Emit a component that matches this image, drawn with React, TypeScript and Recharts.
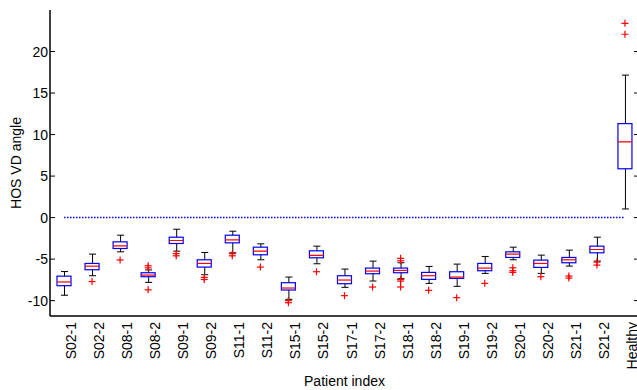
import {
  Bar,
  ComposedChart,
  ReferenceLine,
  Scatter,
  XAxis,
  YAxis,
} from 'recharts'

const categories = [
  'S02-1', 'S02-2', 'S08-1', 'S08-2', 'S09-1', 'S09-2', 'S11-1',
  'S11-2', 'S15-1', 'S15-2', 'S17-1', 'S17-2', 'S18-1', 'S18-2',
  'S19-1', 'S19-2', 'S20-1', 'S20-2', 'S21-1', 'S21-2', 'Healthy',
]

const whiskerLow = [
  -9.35, -7.0, -4.12, -7.8, -4.04, -6.88, -4.24,
  -5.08, -9.84, -5.56, -8.4, -7.64, -7.36, -7.92,
  -8.28, -6.72, -5.08, -6.72, -5.84, -5.24, 1.04,
]
const quartile1 = [
  -8.2, -6.28, -3.72, -7.12, -3.12, -5.96, -3.04,
  -4.48, -8.72, -4.84, -7.96, -6.76, -6.64, -7.44,
  -7.32, -6.4, -4.8, -6.0, -5.44, -4.24, 5.88,
]
const medians = [
  -7.75, -5.85, -3.4, -6.92, -2.76, -5.52, -2.68,
  -4.04, -8.48, -4.56, -7.52, -6.44, -6.36, -7.0,
  -7.16, -6.08, -4.4, -5.52, -5.08, -3.84, 9.12,
]
const quartile3 = [
  -7.05, -5.52, -2.92, -6.64, -2.36, -5.08, -2.12,
  -3.56, -7.84, -4.0, -7.0, -6.08, -6.08, -6.6,
  -6.52, -5.52, -4.12, -5.12, -4.8, -3.44, 11.32,
]
const whiskerHigh = [
  -6.5, -4.4, -2.12, -6.3, -1.4, -4.2, -1.64,
  -3.16, -7.16, -3.44, -6.2, -5.24, -5.44, -5.88,
  -5.6, -4.68, -3.56, -4.52, -3.92, -2.36, 17.16,
]
const outliers: number[][] = [
  [], [-7.7], [-5.1], [-5.8, -6.05, -8.7], [-4.35, -4.6], [-7.2, -7.45], [-4.35, -4.6],
  [-5.96], [-10.0, -10.25], [-6.52], [-9.4], [-8.36], [-4.9, -5.2, -7.45, -7.65, -8.36], [-8.76],
  [-9.64], [-7.92], [-6.04, -6.4, -6.6], [-7.12], [-7.04, -7.28], [-5.36, -5.72], [22.08, 23.4],
]

const yTicks = [-10, -5, 0, 5, 10, 15, 20]
const outlierKeys = ['o1', 'o2', 'o3', 'o4', 'o5']

const rows = categories.map((name, i) => {
  const row: Record<string, any> = {
    name,
    whisker: [whiskerLow[i], whiskerHigh[i]],
    box: [quartile1[i], quartile3[i]],
    median: medians[i],
  }
  outlierKeys.forEach((k, j) => {
    row[k] = outliers[i][j] ?? null
  })
  return row
})

const BLUE = '#0000ff'
const RED = '#ff0000'
const BOX_W = 14
const FONT = 14

function Whisker(props: any) {
  const { x, y, width, height } = props
  const cx = x + width / 2
  const top = Math.min(y, y + height)
  const bot = Math.max(y, y + height)
  return (
    <g stroke="#000" strokeWidth={1}>
      <line x1={cx} x2={cx} y1={top} y2={bot} />
      <line x1={x} x2={x + width} y1={top} y2={top} />
      <line x1={x} x2={x + width} y1={bot} y2={bot} />
    </g>
  )
}

function Box(props: any) {
  const { x, y, width, height } = props
  const top = Math.min(y, y + height)
  return (
    <rect x={x} y={top} width={width} height={Math.abs(height)} fill="#fff" stroke={BLUE} strokeWidth={1.2} />
  )
}

function MedianLine(props: any) {
  const { cx, cy } = props
  if (cx == null || cy == null || isNaN(cy)) return <g />
  return <line x1={cx - BOX_W / 2} x2={cx + BOX_W / 2} y1={cy} y2={cy} stroke={RED} strokeWidth={1.2} />
}

function Plus(props: any) {
  const { cx, cy } = props
  if (cx == null || cy == null || isNaN(cy)) return <g />
  return (
    <g stroke={RED} strokeWidth={1.2}>
      <line x1={cx - 3.5} x2={cx + 3.5} y1={cy} y2={cy} />
      <line x1={cx} x2={cx} y1={cy - 3.5} y2={cy + 3.5} />
    </g>
  )
}

function LeftTick(props: any) {
  const { x, y, payload } = props
  return (
    <g>
      <line x1={x + 2} x2={x + 7} y1={y} y2={y} stroke="#000" />
      <text x={x} y={y} textAnchor="end" dominantBaseline="central" fontSize={FONT} fill="#000">
        {payload.value}
      </text>
    </g>
  )
}

function RightTick(props: any) {
  const { x, y } = props
  return <line x1={x - 5} x2={x} y1={y} y2={y} stroke="#000" />
}

function CategoryTick(props: any) {
  const { x, y, payload } = props
  const tx = x + 7
  return (
    <text
      x={tx}
      y={y}
      transform={`rotate(-90 ${tx} ${y})`}
      textAnchor="end"
      dominantBaseline="central"
      fontSize={FONT}
      fill="#000"
    >
      {payload.value}
    </text>
  )
}

function YTitle(props: any) {
  const vb = props.viewBox
  const x = vb.x + 16
  const y = vb.y + vb.height / 2
  return (
    <text x={x} y={y} transform={`rotate(-90 ${x} ${y})`} textAnchor="middle" dominantBaseline="central" fontSize={FONT} fill="#000">
      HOS VD angle
    </text>
  )
}

export default function App() {
  return (
    <div
      style={{
        position: 'fixed',
        left: 0,
        top: 0,
        width: 637,
        height: 390,
        overflow: 'hidden',
        background: '#fff',
        fontFamily: '"Liberation Sans", Arial, sans-serif',
      }}
    >
      <ComposedChart width={640} height={390} data={rows} margin={{ top: 10, right: 0, bottom: 0, left: 0 }}>
        <XAxis
          dataKey="name"
          height={74}
          tick={<CategoryTick />}
          tickLine={false}
          tickSize={0}
          tickMargin={6}
          interval={0}
          axisLine={{ stroke: '#000', strokeWidth: 1.5 }}
          label={{ value: 'Patient index', position: 'insideBottom', offset: 4, fontSize: FONT, fill: '#000' }}
        />
        <XAxis
          xAxisId="top"
          dataKey="name"
          orientation="top"
          height={0}
          tick={false}
          tickLine={false}
          axisLine={{ stroke: '#000', strokeWidth: 1.5 }}
        />
        <YAxis
          width={50}
          domain={[-11.85, 25]}
          ticks={yTicks}
          allowDataOverflow
          tickLine={false}
          tickSize={0}
          tickMargin={2}
          tick={<LeftTick />}
          axisLine={{ stroke: '#000', strokeWidth: 1.5 }}
          label={<YTitle />}
        />
        <YAxis
          yAxisId="right"
          orientation="right"
          width={1}
          domain={[-11.85, 25]}
          ticks={yTicks}
          allowDataOverflow
          tickLine={false}
          tickSize={0}
          tickMargin={0}
          tick={<RightTick />}
          axisLine={{ stroke: '#000', strokeWidth: 1.5 }}
        />
        <ReferenceLine
          segment={[{ x: 'S02-1', y: 0 }, { x: 'Healthy', y: 0 }]}
          stroke={BLUE}
          strokeWidth={1.5}
          strokeDasharray="1.5 1.5"
        />
        <Bar xAxisId="top" dataKey="whisker" barSize={7} shape={<Whisker />} isAnimationActive={false} />
        <Bar dataKey="box" barSize={BOX_W} shape={<Box />} isAnimationActive={false} />
        <Scatter dataKey="median" shape={<MedianLine />} isAnimationActive={false} />
        {outlierKeys.map((k) => (
          <Scatter key={k} dataKey={k} shape={<Plus />} isAnimationActive={false} />
        ))}
      </ComposedChart>
    </div>
  )
}
